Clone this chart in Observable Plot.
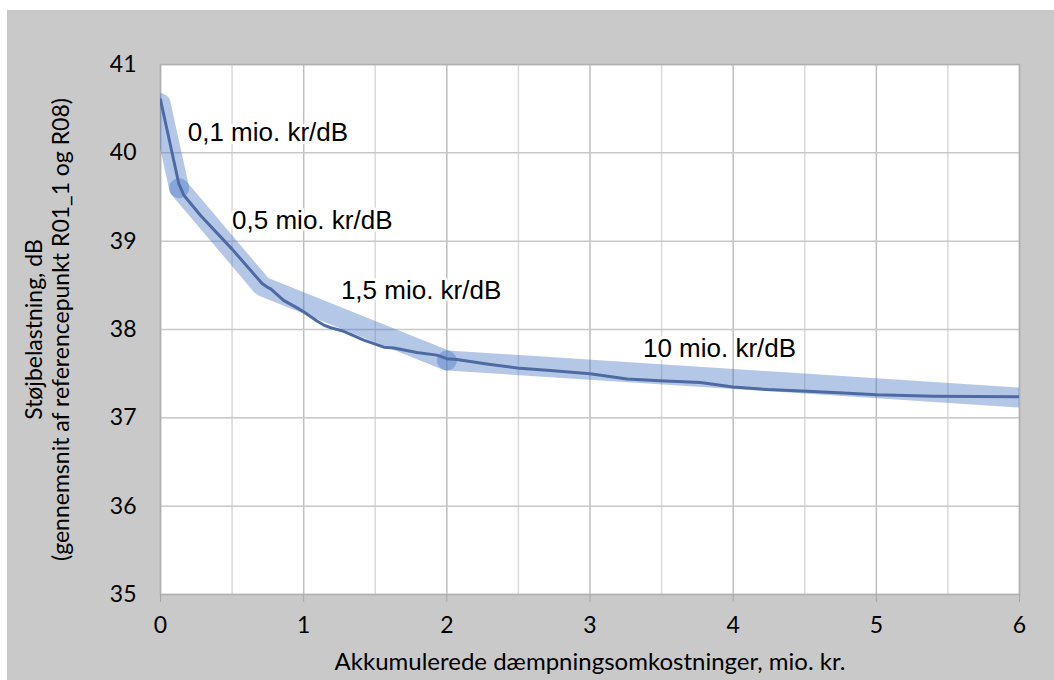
<!DOCTYPE html>
<html><head><meta charset="utf-8">
<script src="https://cdn.jsdelivr.net/npm/d3@7"></script>
<script src="https://cdn.jsdelivr.net/npm/@observablehq/plot@0.6"></script>
<style>
body{margin:0;background:#fff;}
#bg{position:absolute;left:7px;top:10px;width:1047px;height:670px;background:#c9c9c9;}
#chart{position:absolute;left:0;top:0;}
</style></head><body>
<div id="bg"></div><div id="chart"></div>
<script>
// Accumulated cost (mio. kr.) and noise level (dB)
const costX = [0, 0.128, 0.163, 0.28, 0.50, 0.71, 0.745, 0.77, 0.86, 0.97, 1.0, 1.09, 1.14, 1.19, 1.28, 1.42, 1.56, 1.63, 1.79, 1.93, 2.0, 2.07, 2.28, 2.51, 2.70, 3.0, 3.26, 3.49, 3.77, 4.0, 4.24, 4.52, 4.77, 5.0, 5.40, 6.0];
const noiseY = [40.6, 39.65, 39.52, 39.29, 38.91, 38.52, 38.48, 38.46, 38.33, 38.23, 38.20, 38.10, 38.05, 38.02, 37.98, 37.88, 37.80, 37.79, 37.74, 37.71, 37.67, 37.66, 37.61, 37.56, 37.54, 37.50, 37.44, 37.42, 37.40, 37.35, 37.32, 37.30, 37.28, 37.26, 37.245, 37.24];

// Piecewise cost-efficiency band
const bandSegment = ["a", "a", "b", "b", "b", "c", "c"];
const bandX = [0, 0.13, 0.13, 0.71, 2, 2, 6];
const bandY = [40.56, 39.6, 39.6, 38.49, 37.65, 37.65, 37.23];

// Rate labels
const rateLabels = ["0,1 mio. kr/dB", "0,5 mio. kr/dB", "1,5 mio. kr/dB", "10 mio. kr/dB"];
const rateX = [0.19, 0.50, 1.26, 3.37];
const rateY = [40.23, 39.23, 38.44, 37.78];

const xTicks = [0, 1, 2, 3, 4, 5, 6];
const xMinor = [0.5, 1.5, 2.5, 3.5, 4.5, 5.5];
const yTicks = [35, 36, 37, 38, 39, 40, 41];

const xTitle = "Akkumulerede dæmpningsomkostninger, mio. kr.";
const yTitle = "Støjbelastning, dB\n(gennemsnit af referencepunkt R01_1 og R08)";

const curve = costX.map((x, i) => ({x, y: noiseY[i]}));
const band = bandX.map((x, i) => ({x, y: bandY[i], g: bandSegment[i]}));
const labels = rateLabels.map((t, i) => ({t, x: rateX[i], y: rateY[i]}));

const chart = Plot.plot({
  width: 1054,
  height: 680,
  marginLeft: 160,
  marginRight: 35,
  marginTop: 64,
  marginBottom: 86,
  style: {fontFamily: "Lato, sans-serif", fontSize: "23px", color: "#000", background: "transparent"},
  x: {domain: [0, 6]},
  y: {domain: [35, 41]},
  marks: [
    Plot.frame({fill: "white"}),
    Plot.gridX(xMinor, {stroke: "#d9d9d9", strokeOpacity: 1, strokeWidth: 1.5}),
    Plot.gridX(xTicks, {stroke: "#bfbfbf", strokeOpacity: 1, strokeWidth: 1.5}),
    Plot.gridY(yTicks, {stroke: "#c8c8c8", strokeOpacity: 1, strokeWidth: 1.5}),
    Plot.frame({stroke: "#b0b0b0", strokeWidth: 1.5}),
    Plot.axisX(xTicks, {tickSize: 8, tickPadding: 14, stroke: "#a6a6a6", fill: "#000", tickFormat: d => String(d), fontSize: 23, label: null}),
    Plot.axisY(yTicks, {tickSize: 0, tickPadding: 24, fill: "#000", tickFormat: d => String(d), fontSize: 23, label: null}),
    Plot.line(band, {x: "x", y: "y", z: "g", stroke: "#4472c4", strokeOpacity: 0.4, strokeWidth: 20, strokeLinecap: "round", strokeLinejoin: "miter", clip: true}),
    Plot.line(curve, {x: "x", y: "y", stroke: "#4e6aa3", strokeWidth: 3, clip: true}),
    Plot.text(labels, {x: "x", y: "y", text: "t", textAnchor: "start", fontSize: 26, fontFamily: "Liberation Sans, Arial, sans-serif", fill: "#000", stroke: "white", strokeWidth: 6}),
    Plot.text([xTitle], {frameAnchor: "bottom", dy: 75, fontSize: 24, fill: "#000"}),
    Plot.text([yTitle], {frameAnchor: "left", dx: -114, rotate: -90, textAnchor: "middle", fontSize: 23, lineHeight: 1.17, fill: "#000"})
  ]
});
document.getElementById("chart").appendChild(chart);
</script>
</body></html>
